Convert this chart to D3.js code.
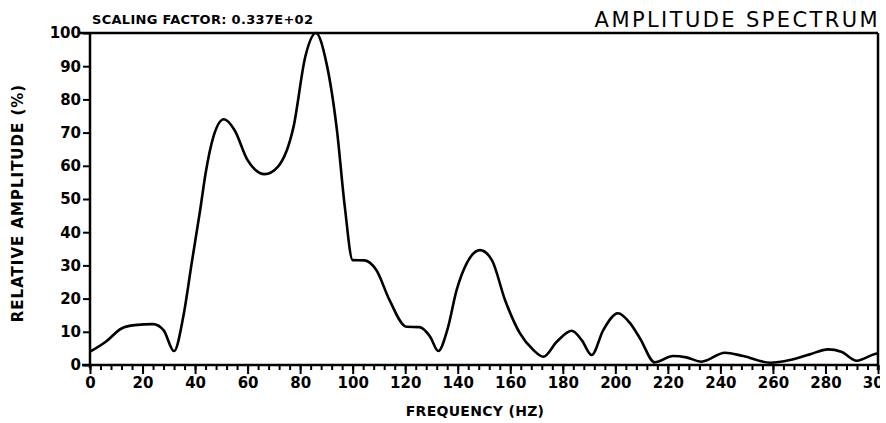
<!DOCTYPE html>
<html>
<head>
<meta charset="utf-8">
<script src="https://cdn.jsdelivr.net/npm/d3@7"></script>
<style>
  body { margin: 0; background: #fff; }
  text { font-family: "DejaVu Sans", sans-serif; fill: #000; }
</style>
</head>
<body>
<div id="chartDiv"></div>
<script>
// amplitude spectrum
var freq = [0, 6, 12, 17, 24, 28, 32, 35.5, 38.7, 42, 44, 47, 51, 55, 60, 66.5, 71.5, 77.5, 82, 86,
            90, 94, 97, 100, 104.5, 109, 114, 120.5, 125.5, 129.5, 132.6, 136, 139.6, 143.4, 148.5, 153,
            158, 163.7, 168.8, 172.6, 177.7, 183.4, 187.2, 191, 195.4, 201, 205.6, 209.4, 215, 222,
            227, 232.8, 241.7, 248.7, 258.9, 266.5, 274, 281, 286, 291.9, 298.8, 300];
var amp = [4, 7, 11, 12, 12.3, 10.5, 4.2, 14.5, 30.6, 47, 57.7, 68.8, 74, 70.8, 61.7, 57.5, 59.7, 71.8, 93, 100,
           91, 70.8, 47.7, 31.6, 31.5, 28.6, 19.6, 11.5, 11.4, 8.5, 4.2, 10.5, 22.6, 30.6, 34.6, 31.6,
           19.6, 9.5, 4.5, 2.5, 7, 10.3, 7.5, 3, 10.5, 15.6, 12.6, 8, 0.8, 2.7,
           2.3, 1, 3.7, 2.7, 0.7, 1.5, 3.2, 4.7, 4, 1.3, 3.3, 3.5];
var xTicks = [0, 20, 40, 60, 80, 100, 120, 140, 160, 180, 200, 220, 240, 260, 280, 300];
var yTicks = [0, 10, 20, 30, 40, 50, 60, 70, 80, 90, 100];

var svg = d3.select("#chartDiv").append("svg")
    .attr("width", 886)
    .attr("height", 423),
    margin = {top: 33, right: 8, bottom: 58, left: 90};

var width = +svg.attr("width") - margin.left - margin.right,
    height = +svg.attr("height") - margin.top - margin.bottom;

var g = svg.append("g").attr("transform", "translate(" + margin.left + "," + margin.top + ")");

var x_scale = d3.scaleLinear().domain([0, 300]).range([0, width]);
var y_scale = d3.scaleLinear().domain([0, 100]).range([height, 0]);

// clip so the last tick label is cut by the frame like the plotter output
svg.append("clipPath").attr("id", "xclip")
  .append("rect").attr("x", -20).attr("y", -10).attr("width", width + 22).attr("height", 60);

// minor ticks every 4 Hz
var xMinor = d3.axisBottom(x_scale).tickValues(d3.range(0, 301, 4)).tickSize(5).tickFormat("");
g.append("g").attr("class", "xminor")
    .attr("transform", "translate(0," + height + ")")
    .call(xMinor);

var xAxis = d3.axisBottom(x_scale).tickValues(xTicks).tickSize(9).tickPadding(3).tickFormat(d3.format("d"));
var xGroup = g.append("g").attr("class", "xaxis")
    .attr("transform", "translate(0," + height + ")")
    .attr("clip-path", "url(#xclip)")
    .call(xAxis);

var yAxis = d3.axisLeft(y_scale).tickValues(yTicks).tickSize(7).tickPadding(2);
var yGroup = g.append("g").attr("class", "yaxis").call(yAxis);

g.selectAll(".domain").remove();
g.selectAll(".tick line").attr("stroke", "#000").attr("stroke-width", 2);
g.selectAll(".xaxis text, .yaxis text")
    .style("font-size", "15px")
    .style("font-weight", "bold");

// frame: left axis, bottom axis, top border, right border
g.append("line").attr("x1", 0).attr("x2", 0).attr("y1", 0).attr("y2", height + 3)
    .attr("stroke", "#000").attr("stroke-width", 2.5);
g.append("line").attr("x1", -8).attr("x2", width).attr("y1", height).attr("y2", height)
    .attr("stroke", "#000").attr("stroke-width", 2.5);
g.append("line").attr("x1", -10).attr("x2", width).attr("y1", 0).attr("y2", 0)
    .attr("stroke", "#000").attr("stroke-width", 2.5);
g.append("line").attr("x1", width).attr("x2", width).attr("y1", 0).attr("y2", height + 5)
    .attr("stroke", "#000").attr("stroke-width", 2.5);

var line = d3.line()
    .x(function(d, i){ return x_scale(freq[i]); })
    .y(function(d){ return y_scale(d); })
    .curve(d3.curveMonotoneX);

g.append("path")
    .datum(amp)
    .attr("fill", "none")
    .attr("stroke", "#000")
    .attr("stroke-width", 2.6)
    .attr("stroke-linejoin", "round")
    .attr("d", line);

// titles
svg.append("text")
    .attr("x", 92).attr("y", 24)
    .style("font-size", "13px").style("font-weight", "bold")
    .style("letter-spacing", "0.3px")
    .text("SCALING FACTOR: 0.337E+02");

svg.append("text")
    .attr("x", 880).attr("y", 27)
    .attr("text-anchor", "end")
    .style("font-size", "21px").style("letter-spacing", "2.4px")
    .text("AMPLITUDE SPECTRUM");

svg.append("text")
    .attr("x", 475).attr("y", 416)
    .attr("text-anchor", "middle")
    .style("font-size", "14px").style("font-weight", "bold")
    .style("letter-spacing", "0.3px")
    .text("FREQUENCY (HZ)");

svg.append("text")
    .attr("transform", "translate(23,203) rotate(-90)")
    .attr("text-anchor", "middle")
    .style("font-size", "15px").style("font-weight", "bold")
    .style("letter-spacing", "1px")
    .text("RELATIVE AMPLITUDE (%)");
</script>
</body>
</html>
